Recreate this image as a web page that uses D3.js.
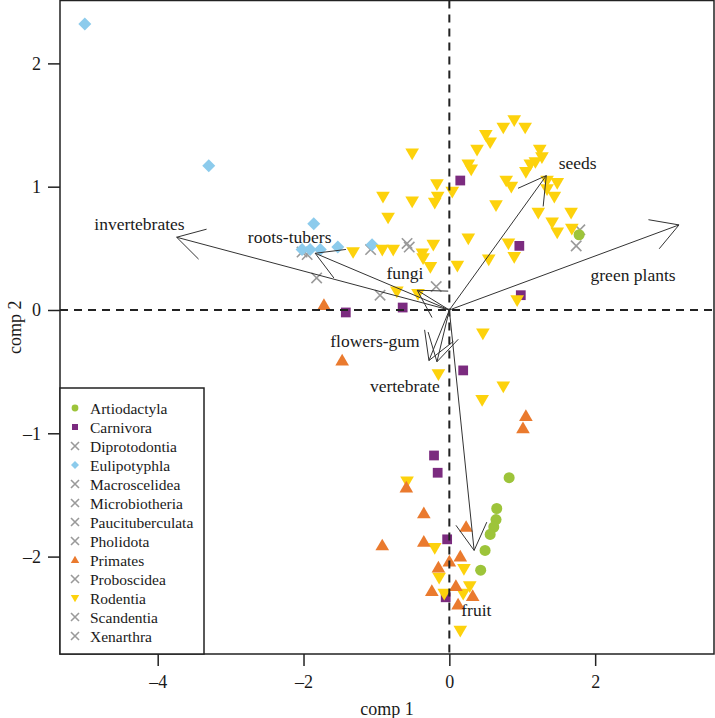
<!DOCTYPE html>
<html><head><meta charset="utf-8">
<script src="https://cdn.jsdelivr.net/npm/d3@7"></script>
<style>body{margin:0;background:#fff}svg{display:block}</style>
</head><body><div id="chart"></div>
<script>
// ---------- data (comp 1, comp 2 scores) ----------
const orders = ["Artiodactyla","Carnivora","Diprotodontia","Eulipotyphla","Macroscelidea","Microbiotheria","Paucituberculata","Pholidota","Primates","Proboscidea","Rodentia","Scandentia","Xenarthra"];
const artiodactyla = [[1.78,0.61],[0.82,-1.36],[0.65,-1.61],[0.64,-1.70],[0.61,-1.76],[0.56,-1.82],[0.49,-1.95],[0.43,-2.11]];
const carnivora = [[-1.42,-0.02],[-0.64,0.02],[0.15,1.05],[0.96,0.52],[0.98,0.12],[0.19,-0.49],[-0.21,-1.18],[-0.16,-1.32],[-0.03,-1.86],[-0.05,-2.33]];
const diprotodontia = [[-0.55,0.51],[-0.18,0.19],[1.74,0.52]];
const eulipotyphla = [[-5.0,2.32],[-3.30,1.17],[-1.86,0.70],[-2.02,0.49],[-1.91,0.49],[-1.77,0.49],[-1.53,0.51],[-1.06,0.53]];
const macroscelidea = [[-1.82,0.26]];
const microbiotheria = [[-0.58,0.54]];
const paucituberculata = [[-1.08,0.49]];
const pholidota = [[-2.02,0.47]];
const primates = [[-1.72,0.04],[-1.47,-0.41],[1.05,-0.86],[1.01,-0.96],[-0.59,-1.44],[-0.35,-1.65],[-0.92,-1.91],[-0.35,-1.88],[0.23,-1.76],[0.0,-2.04],[0.15,-2.00],[-0.15,-2.09],[0.09,-2.24],[-0.24,-2.28],[0.32,-2.32],[0.12,-2.39]];
const proboscidea = [[1.79,0.65]];
const rodentia = [[-0.51,1.27],[-0.17,1.02],[0.04,0.96],[-0.16,0.92],[-0.20,0.87],[-0.91,0.92],[-0.51,0.88],[-0.84,0.75],[-1.32,0.47],[-0.92,0.49],[-0.77,0.49],[-0.22,0.53],[-0.37,0.46],[-0.36,0.42],[-0.26,0.35],[0.11,0.36],[-0.72,0.15],[-0.43,0.13],[0.26,0.58],
  [0.89,1.54],[0.74,1.48],[1.04,1.48],[0.50,1.42],[0.56,1.36],[0.38,1.30],[0.26,1.18],[0.30,1.14],[1.24,1.30],[1.27,1.24],[1.18,1.20],[1.11,1.18],[1.05,1.12],[0.78,1.05],[0.85,1.00],[1.34,1.05],[1.34,0.98],[1.48,1.03],[1.44,0.92],[0.64,0.85],[1.22,0.79],[1.67,0.79],[1.41,0.71],[1.48,0.63],[1.68,0.66],[0.81,0.54],[0.89,0.43],[0.54,0.41],[0.93,0.08],
  [0.46,-0.19],[0.74,-0.62],[0.45,-0.73],[-0.15,-0.52],[-0.58,-1.39],[-0.20,-1.93],[0.20,-2.10],[-0.14,-2.17],[0.28,-2.24],[-0.07,-2.30],[0.19,-2.30],[0.15,-2.60]];
const scandentia = [[-0.95,0.12]];
const xenarthra = [[-1.95,0.45]];

// diet loadings (arrow tips) and label anchors
const diets = ["invertebrates","roots-tubers","fungi","seeds","green plants","flowers-gum","vertebrate","fruit"];
const loadX = [-3.74,-1.84,-0.44,1.33,3.15,-0.28,-0.17,0.34];
const loadY = [0.59,0.46,0.16,1.09,0.69,-0.41,-0.42,-1.95];
const labelX = [-4.25,-2.19,-0.61,1.76,2.52,-1.02,-0.61,0.37];
const labelY = [0.70,0.59,0.30,1.19,0.28,-0.25,-0.62,-2.43];

const xTicks = [-4,-2,0,2];
const yTicks = [-2,-1,0,1,2];

// ---------- layout ----------
const W = 715, H = 718;
const L = 60, R = 714, T = 0.5, B = 654;
const x = d3.scaleLinear().domain([-5.34, 3.63]).range([L, R]);
const y = d3.scaleLinear().domain([-2.79, 2.51]).range([B, T]);

const svg = d3.select("#chart").append("svg").attr("width", W).attr("height", H)
  .style("font-family", "'Liberation Serif','Times New Roman',serif");

const styles = {
  Artiodactyla: {shape: "circle", color: "#9dc43a"},
  Carnivora: {shape: "square", color: "#7b2b7f"},
  Eulipotyphla: {shape: "diamond", color: "#8ccbec"},
  Primates: {shape: "up", color: "#ea7a2e"},
  Rodentia: {shape: "down", color: "#fdd20c"},
  other: {shape: "x", color: "#9a9a9a"}
};
const seriesData = {
  Artiodactyla: artiodactyla, Carnivora: carnivora, Diprotodontia: diprotodontia, Eulipotyphla: eulipotyphla,
  Macroscelidea: macroscelidea, Microbiotheria: microbiotheria, Paucituberculata: paucituberculata, Pholidota: pholidota,
  Primates: primates, Proboscidea: proboscidea, Rodentia: rodentia, Scandentia: scandentia, Xenarthra: xenarthra
};
const styleOf = o => styles[o] || styles.other;

function drawMarker(g, shape, color, s) {
  if (shape === "circle") g.append("circle").attr("r", s*0.85).attr("fill", color);
  else if (shape === "square") g.append("rect").attr("x", -s*0.75).attr("y", -s*0.75).attr("width", s*1.5).attr("height", s*1.5).attr("fill", color);
  else if (shape === "diamond") g.append("path").attr("d", `M0,${-s}L${s},0L0,${s}L${-s},0Z`).attr("fill", color);
  else if (shape === "up") g.append("path").attr("d", `M0,${-s*1.05}L${s*1.05},${s*0.75}L${-s*1.05},${s*0.75}Z`).attr("fill", color);
  else if (shape === "down") g.append("path").attr("d", `M0,${s*1.05}L${s*1.05},${-s*0.75}L${-s*1.05},${-s*0.75}Z`).attr("fill", color);
  else if (shape === "x") g.append("path").attr("d", `M${-s*0.8},${-s*0.8}L${s*0.8},${s*0.8}M${-s*0.8},${s*0.8}L${s*0.8},${-s*0.8}`).attr("stroke", color).attr("stroke-width", 1.6).attr("fill", "none");
}

const drawOrder = ["Diprotodontia","Macroscelidea","Microbiotheria","Paucituberculata","Pholidota","Proboscidea","Scandentia","Xenarthra","Eulipotyphla","Carnivora","Rodentia","Primates","Artiodactyla"];
const pts = svg.append("g");
drawOrder.forEach(o => {
  const st = styleOf(o);
  seriesData[o].forEach(d => {
    const g = pts.append("g").attr("transform", `translate(${x(d[0])},${y(d[1])})`);
    drawMarker(g, st.shape, st.color, 6.5);
  });
});

// dashed reference lines
svg.append("line").attr("x1", x(0)).attr("x2", x(0)).attr("y1", T).attr("y2", B)
  .attr("stroke", "#222").attr("stroke-width", 2).attr("stroke-dasharray", "8,6");
svg.append("line").attr("x1", L).attr("x2", R).attr("y1", y(0)).attr("y2", y(0))
  .attr("stroke", "#222").attr("stroke-width", 2).attr("stroke-dasharray", "8,6");

// arrows
const arr = svg.append("g").attr("stroke", "#333").attr("stroke-width", 1).attr("fill", "none");
diets.forEach((name, i) => {
  const x0 = x(0), y0 = y(0), x1 = x(loadX[i]), y1 = y(loadY[i]);
  arr.append("line").attr("x1", x0).attr("y1", y0).attr("x2", x1).attr("y2", y1);
  const ang = Math.atan2(y0 - y1, x0 - x1), len = 31, a = Math.PI / 6;
  arr.append("path").attr("d",
    `M${x1 + len*Math.cos(ang + a)},${y1 + len*Math.sin(ang + a)}L${x1},${y1}L${x1 + len*Math.cos(ang - a)},${y1 + len*Math.sin(ang - a)}`);
});
svg.append("g").selectAll("text").data(diets).join("text")
  .attr("x", (d, i) => x(labelX[i])).attr("y", (d, i) => y(labelY[i]))
  .attr("text-anchor", "middle").attr("dominant-baseline", "central")
  .attr("font-size", 17.5).attr("fill", "#1a1a1a").text(d => d);

// frame and axes
svg.append("rect").attr("x", L).attr("y", T).attr("width", R - L).attr("height", B - T)
  .attr("fill", "none").attr("stroke", "#222").attr("stroke-width", 1.5);
const xa = svg.append("g").attr("transform", `translate(0,${B})`)
  .call(d3.axisBottom(x).tickValues(xTicks).tickSize(12).tickPadding(9).tickFormat(d => d < 0 ? "\u2013" + Math.abs(d) : d));
const ya = svg.append("g").attr("transform", `translate(${L},0)`)
  .call(d3.axisLeft(y).tickValues(yTicks).tickSize(12).tickPadding(7).tickFormat(d => d < 0 ? "\u2013" + Math.abs(d) : d));
[xa, ya].forEach(a => {
  a.select(".domain").remove();
  a.selectAll(".tick line").attr("stroke", "#222").attr("stroke-width", 1.5);
  a.selectAll(".tick text").attr("font-size", 18).attr("fill", "#1a1a1a").attr("font-family", "'Liberation Serif',serif");
});
svg.append("text").attr("x", (L + R) / 2).attr("y", 709).attr("text-anchor", "middle")
  .attr("dominant-baseline", "central").attr("font-size", 18).attr("fill", "#1a1a1a").text("comp 1");
svg.append("text").attr("transform", `translate(15,${(T + B) / 2}) rotate(-90)`).attr("text-anchor", "middle")
  .attr("dominant-baseline", "central").attr("font-size", 18).attr("fill", "#1a1a1a").text("comp 2");

// legend
const lg = svg.append("g");
lg.append("rect").attr("x", L).attr("y", 388).attr("width", 144).attr("height", B - 388)
  .attr("fill", "#fff").attr("stroke", "#222").attr("stroke-width", 1.5);
orders.forEach((o, i) => {
  const yy = 408 + i * 19;
  const st = styleOf(o);
  const g = lg.append("g").attr("transform", `translate(75,${yy})`);
  drawMarker(g, st.shape, st.color, st.shape === "x" ? 5 : 4);
  lg.append("text").attr("x", 90).attr("y", yy).attr("dominant-baseline", "central")
    .attr("font-size", 15.5).attr("fill", "#1a1a1a").text(o);
});
</script></body></html>
